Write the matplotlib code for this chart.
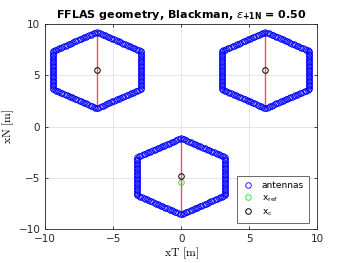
import numpy as np
import matplotlib
matplotlib.use("Agg")
import matplotlib.pyplot as plt

# Data
hex_centers_x = [-6.2, 6.2, 0.0]
hex_centers_y = [5.5, 5.5, -4.85]
hex_radius = 3.72
per_side = 28
x_ref = [0.0]
y_ref = [-5.4]
x_c = [-6.2, 6.2, 0.0]
y_c = [5.5, 5.5, -4.85]
ticks = [-10, -5, 0, 5, 10]

fig = plt.figure(figsize=(3.5, 2.63), dpi=100)
ax = fig.add_axes([0.129, 0.129, 0.777, 0.78])

ang = np.deg2rad([90, 150, 210, 270, 330, 30, 90])
ax_pts, ay_pts = [], []
for cx, cy in zip(hex_centers_x, hex_centers_y):
    vx = cx + hex_radius * np.cos(ang)
    vy = cy + hex_radius * np.sin(ang)
    for k in range(6):
        t = np.linspace(0, 1, per_side, endpoint=False)
        ax_pts.extend(vx[k] + (vx[k+1] - vx[k]) * t)
        ay_pts.extend(vy[k] + (vy[k+1] - vy[k]) * t)
    # red vertical line from top to bottom vertex
    ax.plot([cx, cx], [cy + hex_radius, cy - hex_radius], color=(1, 0.3, 0.3), lw=1.0, zorder=2)

ax.plot(ax_pts, ay_pts, 'o', ms=4.0, mfc='none', mec='blue', mew=0.6, zorder=3, label='antennas')
ax.plot(x_ref, y_ref, 'o', ms=4.0, mfc='none', mec=(0.2, 0.9, 0.2), mew=0.7, zorder=4, label=r'$\mathsf{x_{ref}}$')
ax.plot(x_c, y_c, 'o', ms=4.0, mfc='none', mec='black', mew=0.7, zorder=5, label=r'$\mathsf{x_{c}}$')

ax.set_xlim(-10, 10)
ax.set_ylim(-10, 10)
ax.set_xticks(ticks)
ax.set_yticks(ticks)
ax.grid(True, color=(0.88, 0.88, 0.88), lw=0.6)
ax.set_axisbelow(True)
ax.tick_params(direction='in', length=2.5, width=0.6, labelsize=7.5, colors=(0.15, 0.15, 0.15),
               top=True, right=True)
for s in ax.spines.values():
    s.set_linewidth(0.6)
    s.set_color((0.15, 0.15, 0.15))

ax.set_xlabel(r'$\mathrm{xT\ [m]}$', fontsize=8.5, labelpad=1, math_fontfamily='cm')
ax.set_ylabel(r'$\mathrm{xN\ [m]}$', fontsize=8.5, labelpad=2, math_fontfamily='cm')
ax.set_title(r'FFLAS geometry, Blackman, $\epsilon_{\mathbf{+1N}}$ = 0.50', fontsize=8, fontweight='bold', pad=4)

leg = ax.legend(loc='lower right', fontsize=6.5, frameon=True, fancybox=False, edgecolor=(0.15, 0.15, 0.15),
                borderpad=0.5, handlelength=1.5, labelspacing=0.4, bbox_to_anchor=(0.985, 0.01))
leg.get_frame().set_linewidth(0.6)

fig.savefig('out.png', dpi=100)
